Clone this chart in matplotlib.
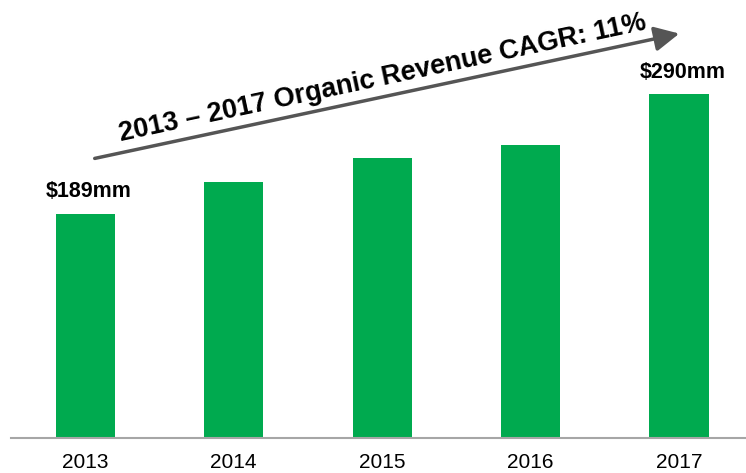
import numpy as np
import matplotlib.pyplot as plt

# ---------------------------------------------------------------
# Data: organic revenue by year ($mm)
# ---------------------------------------------------------------
years = ["2013", "2014", "2015", "2016", "2017"]
revenue = [189, 216, 236, 247, 290]
bar_labels = ["$189mm", "", "", "", "$290mm"]
cagr_text = "2013 \u2013 2017 Organic Revenue CAGR: 11%"

green = "#00AA4F"
arrow_grey = "#555555"
axis_grey = "#A6A6A6"

plt.rcParams["font.family"] = ["Liberation Sans", "DejaVu Sans"]

fig = plt.figure(figsize=(7.46, 4.73), dpi=100)
# axes spans from the baseline (y=438px) to the top edge
ax = fig.add_axes([11 / 746, 35 / 473, 1 - 11 / 746, 438 / 473])

x = np.arange(len(years))
bars = ax.bar(x, revenue, width=0.4, color=green, zorder=2)

ax.set_xlim(-0.5, 4.45)
ax.set_ylim(0, 369.6)

for rect, lab in zip(bars, bar_labels):
    if lab:
        ax.annotate(lab, (rect.get_x() + rect.get_width() / 2, rect.get_height()),
                    xytext=(2.5, 8.5), textcoords="offset points", ha="center",
                    va="bottom", fontsize=15.5, fontweight="bold", color="black")

# x axis: grey baseline, year labels, no ticks
for side in ["top", "right", "left"]:
    ax.spines[side].set_visible(False)
ax.spines["bottom"].set_color(axis_grey)
ax.spines["bottom"].set_linewidth(1.5)
ax.set_yticks([])
ax.set_xticks(x)
ax.set_xticklabels(years, fontsize=15)
ax.tick_params(axis="x", length=0, pad=11)

# CAGR arrow and rotated caption (figure fraction coordinates)
fig.patches.append(plt.matplotlib.patches.FancyArrowPatch(
    (92 / 746, 1 - 159 / 473), (682 / 746, 1 - 33 / 473),
    transform=fig.transFigure, arrowstyle="-|>,head_length=1.0,head_width=0.5",
    mutation_scale=15, color=arrow_grey, linewidth=2.5))
fig.text(383 / 746, 1 - 78 / 473, cagr_text, rotation=12, rotation_mode="anchor",
         ha="center", va="center", fontsize=19.5, fontweight="bold", color="black")

fig.savefig("out.png", dpi=100)
